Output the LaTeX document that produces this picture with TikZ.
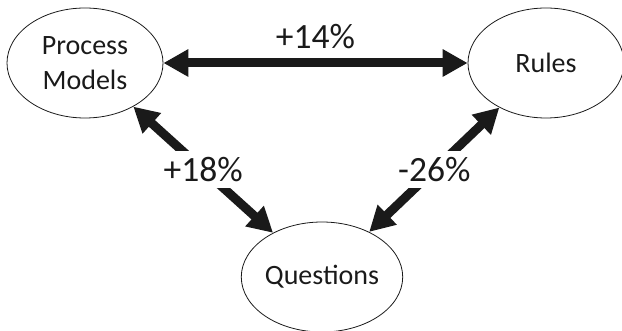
\documentclass[tikz,border=0pt]{standalone}
\usepackage{fontspec}
\setmainfont{Carlito}
\usetikzlibrary{arrows.meta, shapes.geometric, positioning}
\definecolor{ink}{RGB}{26,26,26}

\begin{document}
\begin{tikzpicture}[x=1pt, y=-1pt,
    ell/.style={draw=ink, line width=0.8pt, ellipse, minimum width=156pt,
      minimum height=110pt, inner sep=0pt, align=center, text=ink,
      font=\fontsize{28}{35}\selectfont},
    link/.style={line width=9pt, draw=ink,
      {Triangle[length=25pt,width=26pt]}-{Triangle[length=25pt,width=26pt]}},
    pct/.style={text=ink, font=\fontsize{35.5}{40}\selectfont}]
\useasboundingbox (0,0) rectangle (622,331);
\node[ell] (pm) at (85,63) {Process\\Models};
\node[ell] (ru) at (546,63) {Rules};
\node[ell] (qu) at (322,277) {Questions};
\draw[link] (pm) to node[pct, above=6pt]{+14\%} (ru);
\draw[link] (pm) to node[pct, fill=white, inner sep=6pt]{+18\%} (qu);
\draw[link] (ru) to node[pct, fill=white, inner sep=6pt]{-26\%} (qu);
\end{tikzpicture}
\end{document}
